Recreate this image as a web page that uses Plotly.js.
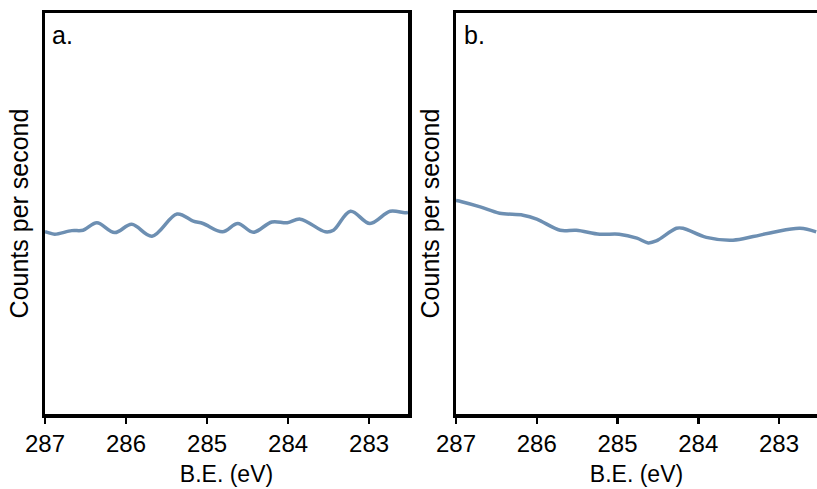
<!DOCTYPE html>
<html>
<head>
<meta charset="utf-8">
<script src="https://cdn.plot.ly/plotly-3.0.1.min.js"></script>
<style>html,body{margin:0;padding:0;background:#fff;}#chart{width:817px;height:489px;}</style>
</head>
<body>
<div id="chart"></div>
<script>
// Panel a: binding energy (eV) and counts (arbitrary units)
const beA = [287.0, 286.96, 286.88, 286.67, 286.53, 286.36, 286.14, 285.93, 285.68, 285.37, 285.17, 285.05, 284.81, 284.62, 284.43, 284.20, 284.01, 283.85, 283.54, 283.44, 283.23, 282.99, 282.74, 282.56, 282.52];
const cpsA = [44.5, 44.3, 43.9, 44.8, 44.9, 46.8, 44.3, 46.4, 43.4, 49.0, 47.2, 46.6, 44.5, 46.6, 44.4, 47.0, 46.8, 47.7, 44.5, 44.9, 49.7, 46.6, 49.7, 49.3, 49.4];
// Panel b
const beB = [287.0, 286.93, 286.70, 286.46, 286.17, 286.00, 285.71, 285.51, 285.22, 284.98, 284.76, 284.62, 284.52, 284.27, 284.19, 283.90, 283.57, 283.32, 283.07, 282.74, 282.54];
const cpsB = [52.4, 52.1, 50.8, 49.2, 48.7, 47.7, 44.9, 44.9, 43.9, 43.9, 42.9, 41.7, 42.2, 45.4, 45.4, 43.1, 42.4, 43.3, 44.4, 45.4, 44.5];
const tickVals = [287, 286, 285, 284, 283];
const tickText = ['287', '286', '285', '284', '283'];
const panelLabels = ['a.', 'b.'];
const xTitle = 'B.E. (eV)';
const yTitle = 'Counts per second';

const W = 817, H = 489;
const lineColor = '#6d8fb2';
const fam = 'Liberation Sans, Arial, sans-serif';
const tickFont = {family: fam, size: 24, color: '#000'};
const xTitleFont = {family: fam, size: 23, color: '#000'};
const yTitleFont = {family: fam, size: 25, color: '#000'};
const labelFont = {family: fam, size: 25, color: '#000'};

const traces = [
  {x: beA, y: cpsA, xaxis: 'x', yaxis: 'y', mode: 'lines', line: {color: lineColor, width: 3.5, shape: 'spline', smoothing: 1}, hoverinfo: 'skip'},
  {x: beB, y: cpsB, xaxis: 'x2', yaxis: 'y2', mode: 'lines', line: {color: lineColor, width: 3.5, shape: 'spline', smoothing: 1}, hoverinfo: 'skip'}
];

function xax(domain, range) {
  return {
    domain: domain, range: range, tickvals: tickVals, ticktext: tickText,
    ticks: 'outside', ticklen: 6, tickwidth: 2.5, tickcolor: '#000',
    showline: true, linewidth: 3.5, linecolor: '#000', mirror: true,
    showgrid: false, zeroline: false, tickfont: tickFont,
    title: {text: xTitle, font: xTitleFont, standoff: 10}
  };
}
function yax(domain, anchor, mirror) {
  return {
    domain: domain, range: [-1.5, 99.75], anchor: anchor,
    showticklabels: false, ticks: '', showline: true, linewidth: 3.5, linecolor: '#000',
    mirror: mirror, showgrid: false, zeroline: false,
    title: {text: yTitle, font: yTitleFont, standoff: 7}
  };
}

const yDom = [(H - 414) / H, (H - 13) / H];
const layout = {
  width: W, height: H,
  margin: {l: 0, r: 0, t: 0, b: 0},
  paper_bgcolor: '#fff', plot_bgcolor: '#fff',
  showlegend: false,
  xaxis: Object.assign(xax([45 / W, 408 / W], [287, 282.52]), {anchor: 'y'}),
  yaxis: yax(yDom, 'x', true),
  xaxis2: Object.assign(xax([456 / W, 1], [287, 282.53]), {anchor: 'y2'}),
  yaxis2: yax(yDom, 'x2', false),
  annotations: [
    {text: panelLabels[0], xref: 'paper', yref: 'paper', x: 50 / W, y: (H - 19) / H, xanchor: 'left', yanchor: 'top', showarrow: false, font: labelFont},
    {text: panelLabels[1], xref: 'paper', yref: 'paper', x: 462 / W, y: (H - 19) / H, xanchor: 'left', yanchor: 'top', showarrow: false, font: labelFont}
  ]
};

Plotly.newPlot('chart', traces, layout, {staticPlot: true, displayModeBar: false});
</script>
</body>
</html>
